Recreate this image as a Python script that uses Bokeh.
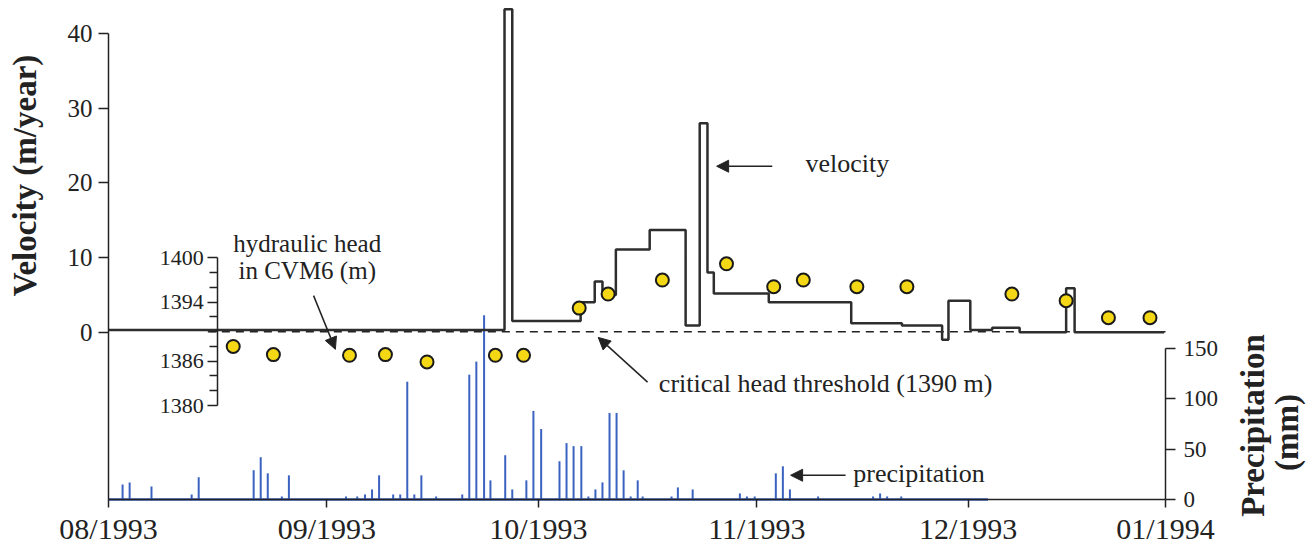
import math
from bokeh.plotting import figure
from bokeh.models import (Range1d, LinearAxis, FixedTicker, Label, Arrow,
                          NormalHead, ColumnDataSource)
from bokeh.core.properties import value
from bokeh.embed import file_html
from bokeh.resources import INLINE

# time axis: days since 1 Aug 1993
month_ticks = [0, 31, 61, 92, 122, 150]
month_labels = ["08/1993", "09/1993", "10/1993", "11/1993", "12/1993", "01/1994"]

# slope velocity (m/year), piecewise constant from each start day
vel_day = [0, 56.2, 57.3, 67.0, 69.0, 70.1, 72.0, 76.8, 81.9, 83.9, 85.0, 85.9,
           93.7, 105.4, 112.6, 118.3, 119.2, 122.3, 125.4, 129.3, 135.9, 137.1, 149.8]
vel_value = [0.3, 43.3, 1.5, 4.0, 6.8, 5.0, 11.1, 13.7, 0.9, 28.0, 8.0, 5.2,
             4.0, 1.2, 0.9, -1.0, 4.2, 0.3, 0.6, 0.0, 5.9, 0.0, 0.0]

# hydraulic head in piezometer CVM6 (m a.s.l.)
head_day = [17.7, 23.4, 34.2, 39.3, 45.2, 54.9, 58.9, 66.8, 70.9, 78.6, 87.7,
            94.4, 98.6, 106.2, 113.3, 128.2, 135.9, 141.9, 147.8]
head_m = [1388.0, 1386.9, 1386.8, 1386.9, 1385.9, 1386.8, 1386.8, 1393.2, 1395.1,
          1397.0, 1399.2, 1396.1, 1397.0, 1396.1, 1396.1, 1395.1, 1394.2, 1391.9, 1391.9]
critical_head = 1390

# daily precipitation (mm)
precip_day = [2.0, 3.0, 6.1, 11.8, 12.8, 20.6, 21.6, 22.6, 24.6, 25.6, 33.7, 35.3,
              36.4, 37.4, 38.4, 40.4, 41.4, 42.4, 43.4, 44.4, 46.5, 50.2, 51.2, 52.2,
              53.3, 54.2, 56.3, 57.3, 59.3, 60.3, 61.4, 64.0, 65.0, 66.0, 67.1, 68.1,
              69.1, 70.1, 71.1, 72.1, 73.1, 74.1, 75.1, 75.8, 79.9, 80.8, 82.9, 89.6,
              90.6, 91.7, 94.7, 95.7, 96.7, 100.7, 108.5, 109.5, 110.5, 112.5]
precip_mm = [15, 17, 13, 5, 22, 29, 42, 26, 3, 24, 3, 3,
             5, 10, 24, 5, 5, 117, 5, 24, 3, 5, 124, 137,
             183, 19, 44, 10, 19, 88, 70, 38, 56, 53, 53, 3,
             10, 17, 86, 86, 29, 3, 19, 3, 3, 12, 10, 6,
             3, 3, 26, 33, 10, 3, 3, 6, 3, 3]
precip_record_end = 124.8

head_ticks = [1380, 1386, 1394, 1400]
head_minor = [1382, 1384, 1388, 1390, 1392, 1396, 1398]
head_axis_day = 15.5
precip_ticks = [0, 50, 100, 150]
velocity_ticks = [0, 10, 20, 30, 40]
velocity_floor = -22.43  # velocity level of the time axis (zero precipitation)

SERIF = "Liberation Serif"
INK = "#222222"
BLUE = "#3a62c0"

# the frame fills the page; all axes are pinned at data positions
p = figure(frame_width=1309, frame_height=547,
           x_range=Range1d(-15.326, 170.435), y_range=Range1d(-28.861, 44.464),
           min_border_left=0, min_border_right=0, min_border_top=0,
           min_border_bottom=0, output_backend="svg", toolbar_location=None,
           background_fill_color="white", border_fill_color="white")
p.outline_line_color = None
p.grid.visible = False
p.extra_y_ranges = {"head": Range1d(1360.759, 1434.878),
                    "precip": Range1d(-47.68, 495.68)}


def style_axis(ax, size):
    ax.major_label_text_font = SERIF
    ax.major_label_text_font_size = size
    ax.major_label_text_color = INK
    ax.axis_line_color = INK
    ax.axis_line_width = 1.5
    ax.major_tick_line_color = INK
    ax.major_tick_line_width = 1.5
    ax.minor_tick_line_color = INK
    ax.minor_tick_line_width = 1.5
    ax.major_tick_in = 0
    ax.minor_tick_in = 0


# time axis along zero precipitation
xa = p.xaxis[0]
xa.y_range_name = "precip"
xa.fixed_location = 0
xa.bounds = (month_ticks[0], month_ticks[-1])
xa.ticker = FixedTicker(ticks=month_ticks, minor_ticks=[])
xa.major_label_overrides = dict(zip(month_ticks, month_labels))
style_axis(xa, "30px")
xa.major_tick_out = 8
xa.major_label_standoff = 4

# velocity axis at the start of the record
ya = p.yaxis[0]
ya.fixed_location = month_ticks[0]
ya.ticker = FixedTicker(ticks=velocity_ticks, minor_ticks=[])
ya.bounds = (velocity_floor, velocity_ticks[-1])
style_axis(ya, "25px")
ya.major_tick_out = 10
ya.major_label_standoff = 6

# precipitation axis at the end of the record
pa = LinearAxis(y_range_name="precip", bounds=(0, 150), fixed_location=month_ticks[-1],
                ticker=FixedTicker(ticks=precip_ticks, minor_ticks=[]))
style_axis(pa, "23px")
pa.major_tick_out = 10
pa.major_label_standoff = 8
p.add_layout(pa, "right")

# hydraulic head axis inside the plot area
ha = LinearAxis(y_range_name="head", bounds=(1380, 1400), fixed_location=head_axis_day,
                ticker=FixedTicker(ticks=head_ticks, minor_ticks=head_minor))
style_axis(ha, "22px")
ha.major_tick_out = 10
ha.minor_tick_out = 8
ha.major_label_standoff = 4
p.add_layout(ha, "left")

# precipitation bars and baseline
psrc = ColumnDataSource(dict(x=precip_day, top=precip_mm, base=[0] * len(precip_mm)))
p.segment(x0="x", y0="base", x1="x", y1="top", source=psrc, y_range_name="precip",
          line_color=BLUE, line_width=2)
p.line([0, precip_record_end], [0, 0], y_range_name="precip",
       line_color=BLUE, line_width=2.5)

# critical head threshold
p.line([head_axis_day - 1.4, 150], [critical_head, critical_head], y_range_name="head",
       line_color=INK, line_width=1.5, line_dash="8 6")

# velocity step line
p.step(vel_day, vel_value, mode="after", line_color="#2e2e2e", line_width=2.5)

# hydraulic head measurements
p.scatter(head_day, head_m, y_range_name="head", size=13, fill_color="#f5d815",
          line_color="#1a1a1a", line_width=2)

# axis titles, written bottom-to-top beside each scale
p.text(x=[-11.8], y=[21.0], text=["Velocity (m/year)"], angle=math.pi / 2,
       text_align="center", text_baseline="middle", text_font=value(SERIF),
       text_font_style="bold", text_font_size="33px", text_color=INK)
p.text(x=[162.4, 167.3], y=[73.5, 66.6], text=["Precipitation", "(mm)"],
       y_range_name="precip", angle=math.pi / 2, text_align="center",
       text_baseline="middle", text_font=value(SERIF), text_font_style="bold",
       text_font_size="33px", text_color=INK)


def note(x, y, text, align="left", yr="default", size="26px"):
    p.add_layout(Label(x=x, y=y, y_range_name=yr, text=text, text_align=align,
                       text_baseline="middle", text_font=SERIF,
                       text_font_size=size, text_color=INK))


def pointer(x0, y0, x1, y1, yr="default"):
    p.add_layout(Arrow(x_start=x0, y_start=y0, x_end=x1, y_end=y1, y_range_name=yr,
                       line_color=INK, line_width=1.5,
                       end=NormalHead(size=12, fill_color=INK, line_color=INK)))


note(28.2, 11.9, "hydraulic head", align="center", size="25px")
note(28.2, 8.3, "in CVM6 (m)", align="center", size="25px")
pointer(29.1, 4.9, 32.2, -2.3)

note(78.1, -6.9, "critical head threshold (1390 m)")
pointer(76.5, -6.7, 69.5, -0.7)

note(98.9, 22.6, "velocity")
pointer(94.2, 22.25, 86.3, 22.25)

note(105.7, 26.1, "precipitation", yr="precip")
pointer(104.6, 24.1, 96.8, 24.1, yr="precip")

open("out.html", "w").write(file_html(p, INLINE))
